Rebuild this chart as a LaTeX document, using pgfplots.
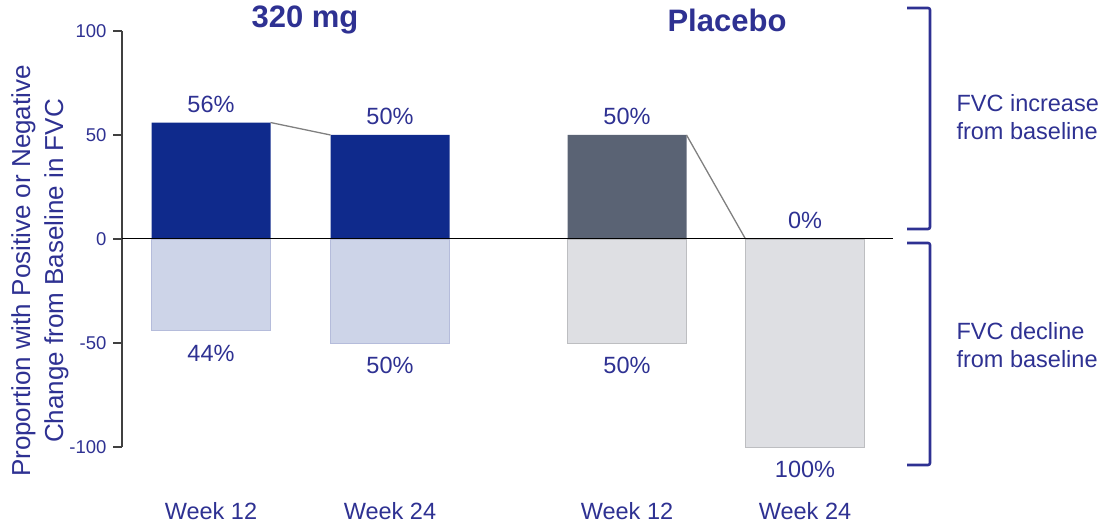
\documentclass[border=0pt]{standalone}
\usepackage{pgfplots}
\pgfplotsset{compat=1.18}
\usepackage{fontspec}
\setmainfont{Liberation Sans}
\definecolor{navytext}{HTML}{2E3192}
\definecolor{barnavy}{HTML}{0F2A8C}
\definecolor{barlav}{HTML}{CDD4E8}
\definecolor{barslate}{HTML}{5A6374}
\definecolor{bargray}{HTML}{DEDFE3}
\begin{document}
\begin{tikzpicture}[x=1pt,y=1pt]
\path[use as bounding box] (0,0) rectangle (1105,529);
\begin{axis}[
  at={(122pt,82pt)}, anchor=south west,
  scale only axis, width=771pt, height=416pt,
  xmin=122, xmax=893, ymin=-100, ymax=100,
  axis y line*=left, axis x line*=bottom,
  x axis line style={draw=none},
  y axis line style={draw=black!75, line width=1.2pt},
  ytick={-100,-50,0,50,100},
  yticklabels={-100,-50,0,50,100},
  yticklabel style={font=\fontsize{18.5}{22}\selectfont, text=navytext, xshift=-3pt},
  ytick style={draw=black!75, line width=1.2pt},
  tick align=outside, major tick length=9pt,
  xtick={211,390,627,805},
  xticklabels={Week 12,Week 24,Week 12,Week 24},
  x tick style={draw=none},
  xticklabel style={font=\fontsize{23.5}{27}\selectfont, text=navytext, anchor=north, inner sep=0pt, yshift=-46pt},
  bar width=119, bar shift=0pt,
  point meta=explicit symbolic,
  every node near coord/.append style={font=\fontsize{23.5}{27}\selectfont, text=navytext, inner sep=0pt},
  clip=false,
]
% positive bars
\addplot[ybar, fill=barnavy, draw=none, nodes near coords,
  every node near coord/.append style={anchor=south, yshift=10pt}]
  coordinates {(211,56)[56\%] (390,50)[50\%]};
\addplot[ybar, fill=barslate, draw=none, nodes near coords,
  every node near coord/.append style={anchor=south, yshift=10pt}]
  coordinates {(627,50)[50\%] (805,0)[0\%]};
% negative bars
\addplot[ybar, fill=barlav, draw=barlav!85!navytext, line width=0.6pt, nodes near coords,
  every node near coord/.append style={anchor=north, yshift=-14pt}]
  coordinates {(211,-44)[44\%] (390,-50)[50\%]};
\addplot[ybar, fill=bargray, draw=bargray!85!black, line width=0.6pt, nodes near coords,
  every node near coord/.append style={anchor=north, yshift=-14pt}]
  coordinates {(627,-50)[50\%] (805,-100)[100\%]};
% connectors
\addplot[gray, line width=1.3pt, sharp plot] coordinates {(270.5,56) (330.5,50)};
\addplot[gray, line width=1.3pt, sharp plot] coordinates {(686.5,50) (745.5,0)};
% zero line
\addplot[black, line width=1pt, sharp plot] coordinates {(122,0) (893,0)};
\end{axis}
% titles
\node[font=\bfseries\fontsize{31}{35}\selectfont, text=navytext] at (305,509) {320 mg};
\node[font=\bfseries\fontsize{31}{35}\selectfont, text=navytext] at (727,509) {Placebo};
% y label
\node[rotate=90, align=center, font=\fontsize{26}{33}\selectfont, text=navytext] at (40,258)
  {Proportion with Positive or Negative\\Change from Baseline in FVC};
% brackets
\draw[navytext, line width=2.6pt, rounded corners=2pt] (907,521) -- (930,521) -- (930,300) -- (907,300);
\draw[navytext, line width=2.6pt, rounded corners=2pt] (907,286) -- (930,286) -- (930,64) -- (907,64);
\node[anchor=west, align=left, font=\fontsize{23.5}{28}\selectfont, text=navytext] at (953,412) {FVC increase\\from baseline};
\node[anchor=west, align=left, font=\fontsize{23.5}{28}\selectfont, text=navytext] at (953,184) {FVC decline\\from baseline};
\end{tikzpicture}
\end{document}
